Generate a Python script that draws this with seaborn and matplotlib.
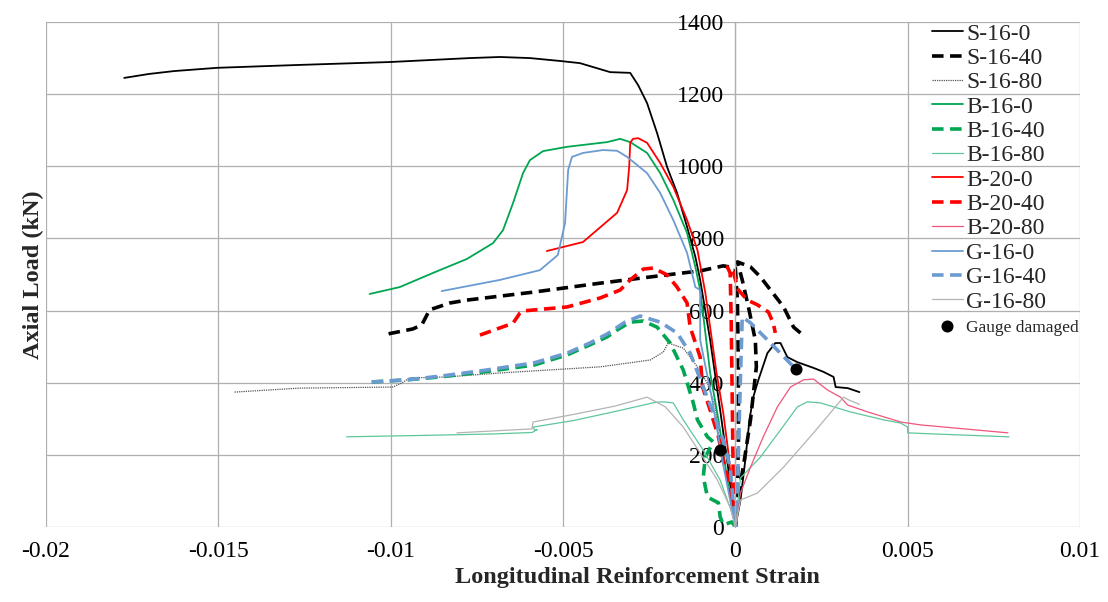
import numpy as np
import pandas as pd
import matplotlib
matplotlib.use("Agg")
import matplotlib.pyplot as plt
import seaborn as sns

# ---- series: longitudinal reinforcement strain vs axial load (kN) ----
s16_0_x = [0.00360, 0.00326, 0.00291, 0.00285, 0.00256, 0.00227, 0.00180, 0.00151, 0.00131,
           0.00116, 0.00093, 0.00067, 0.00052, 0.00041, 0.00029, 0.00015, 0.0,
           -0.00020, -0.00044, -0.00073, -0.00102, -0.00116, -0.00140, -0.00169, -0.00198,
           -0.00227, -0.00256, -0.00282, -0.00305, -0.00363, -0.00451, -0.00509, -0.00596,
           -0.00683, -0.00770, -0.01003, -0.01265, -0.01503, -0.01628, -0.01701, -0.01773]
s16_0_y = [374, 385, 388, 416, 430, 441, 457, 471, 510,
           510, 482, 408, 360, 297, 186, 75, 0,
           158, 324, 518, 685, 749, 832, 926, 998,
           1092, 1175, 1225, 1259, 1261, 1286, 1292, 1300,
           1303, 1300, 1289, 1281, 1273, 1264, 1256, 1245]

s16_40_x = [0.00189, 0.00169, 0.00140, 0.00102, 0.00073, 0.00044, 0.00006,
            0.00020, 0.00038, 0.00058, 0.00061, 0.00044, 0.00023, 0.00006, 0.0,
            0.00006, 0.00009, 0.00009, 0.00006, 0.0,
            -0.00035, -0.00102, -0.00198, -0.00392, -0.00587, -0.00779, -0.00828,
            -0.00887, -0.00910, -0.00936, -0.01009]
s16_40_y = [538, 554, 610, 657, 693, 721, 735,
            685, 610, 518, 444, 297, 166, 75, 0,
            103, 241, 435, 629, 718,
            724, 710, 699, 676, 651, 629, 621,
            602, 560, 549, 535]

s16_80_x = [-0.01453, -0.01265, -0.00994, -0.00968, -0.00945, -0.00837, -0.00683, -0.00392,
            -0.00247, -0.00209, -0.00195, -0.00151, -0.00110, -0.00081, -0.00058, -0.00044]
s16_80_y = [374, 385, 388, 399, 413, 416, 427, 444,
            463, 485, 510, 496, 444, 399, 333, 213]

b16_0_x = [-0.01061, -0.00974, -0.00878, -0.00779, -0.00703, -0.00674, -0.00645, -0.00616,
           -0.00596, -0.00558, -0.00488, -0.00372, -0.00334, -0.00305, -0.00256, -0.00218,
           -0.00180, -0.00140, -0.00116, -0.00102, -0.00073, -0.00049, -0.00023, 0.0]
b16_0_y = [646, 665, 704, 743, 787, 823, 898, 981,
           1017, 1042, 1054, 1067, 1076, 1067, 1037, 981,
           907, 815, 721, 657, 427, 297, 130, 0]

b16_40_x = [-0.01055, -0.00953, -0.00857, -0.00730, -0.00584, -0.00488, -0.00422, -0.00372,
            -0.00343, -0.00305, -0.00267, -0.00227, -0.00189, -0.00151, -0.00122, -0.00110,
            -0.00081, -0.00064, -0.00087, -0.00093, -0.00081, -0.00049, -0.00044, -0.00035,
            -0.00010, 0.0]
b16_40_y = [402, 408, 416, 430, 449, 477, 505, 527,
            546, 568, 571, 554, 510, 435, 344, 297,
            250, 236, 194, 139, 83, 67, 28, 6,
            14, 0]

b16_80_x = [-0.01128, -0.00900, -0.00700, -0.00590, -0.00575, -0.00582, -0.00587, -0.00470,
            -0.00350, -0.00230, -0.00209, -0.00180, -0.00151, -0.00093, -0.00044, -0.00010, 0.0,
            0.00015, 0.00073, 0.00131, 0.00180, 0.00209, 0.00247, 0.00334, 0.00430, 0.00480,
            0.00500, 0.00500, 0.00576, 0.00794]
b16_80_y = [250, 254, 258, 262, 270, 268, 277, 295,
            320, 346, 347, 344, 297, 213, 130, 40, 0,
            136, 194, 269, 333, 347, 344, 319, 297, 288,
            277, 261, 258, 250]

b20_0_x = [-0.00547, -0.00442, -0.00343, -0.00314, -0.00308, -0.00305, -0.00297, -0.00282,
           -0.00256, -0.00218, -0.00180, -0.00140, -0.00110, -0.00087, -0.00055, -0.00035,
           -0.00020, -0.00006, 0.0]
b20_0_y = [765, 790, 871, 934, 998, 1065, 1076, 1078,
           1065, 1009, 943, 851, 768, 649, 430, 316,
           205, 67, 0]

b20_40_x = [-0.00741, -0.00645, -0.00625, -0.00616, -0.00488, -0.00392, -0.00334, -0.00305,
            -0.00267, -0.00238, -0.00198, -0.00169, -0.00140, -0.00131, -0.00102, -0.00095,
            -0.00073, -0.00049, -0.00035, -0.00020, -0.00009, 0.0,
            -0.00006, -0.00009, -0.00012, -0.00015, -0.00023, -0.00006, 0.00009, 0.00035,
            0.00064, 0.00096, 0.00110, 0.00116]
b20_40_y = [532, 565, 593, 599, 610, 635, 657, 685,
            715, 718, 699, 665, 621, 554, 471, 388,
            324, 250, 186, 130, 67, 0,
            130, 352, 574, 704, 721, 707, 657, 629,
            616, 596, 565, 538]

b20_80_x = [0.0, 0.00015, 0.00044, 0.00081, 0.00122, 0.00160, 0.00198, 0.00227, 0.00267,
            0.00305, 0.00326, 0.00384, 0.00480, 0.00538, 0.00791]
b20_80_y = [0, 94, 166, 250, 333, 388, 408, 410, 380,
            360, 338, 319, 291, 283, 261]

g16_0_x = [-0.00852, -0.00683, -0.00567, -0.00515, -0.00494, -0.00485, -0.00474, -0.00442,
           -0.00384, -0.00343, -0.00314, -0.00256, -0.00218, -0.00180, -0.00140, -0.00116,
           -0.00102, -0.00102, -0.00067, -0.00038, -0.00015, 0.0]
g16_0_y = [654, 685, 712, 754, 843, 990, 1026, 1037,
           1045, 1043, 1026, 981, 926, 851, 760, 665,
           657, 518, 352, 186, 75, 0]

g16_40_x = [-0.01055, -0.00953, -0.00857, -0.00730, -0.00584, -0.00488, -0.00422, -0.00372,
            -0.00320, -0.00276, -0.00218, -0.00169, -0.00131, -0.00093, -0.00064, -0.00035,
            -0.00015, 0.0, 0.00006, 0.00010, 0.00015, 0.00020, 0.00044, 0.00102, 0.00169,
            0.00177]
g16_40_y = [402, 408, 418, 434, 455, 482, 510, 535,
            568, 585, 568, 538, 482, 388, 316, 241,
            166, 0, 100, 250, 420, 582, 566, 510, 444,
            438]

g16_80_x = [-0.00808, -0.00590, -0.00587, -0.00470, -0.00350, -0.00256, -0.00203, -0.00151,
            -0.00102, -0.00052, -0.00015, 0.0, 0.00015, 0.00064, 0.00140, 0.00227, 0.00314,
            0.00330, 0.00360]
g16_80_y = [261, 272, 291, 312, 335, 360, 333, 277,
            205, 130, 55, 0, 75, 94, 166, 261, 360,
            352, 340]

gauge_x = [-0.00044, 0.00177]
gauge_y = [213, 438]

series_names = ["S-16-0", "S-16-40", "S-16-80", "B-16-0", "B-16-40", "B-16-80",
                "B-20-0", "B-20-40", "B-20-80", "G-16-0", "G-16-40", "G-16-80"]
series_x = [s16_0_x, s16_40_x, s16_80_x, b16_0_x, b16_40_x, b16_80_x,
            b20_0_x, b20_40_x, b20_80_x, g16_0_x, g16_40_x, g16_80_x]
series_y = [s16_0_y, s16_40_y, s16_80_y, b16_0_y, b16_40_y, b16_80_y,
            b20_0_y, b20_40_y, b20_80_y, g16_0_y, g16_40_y, g16_80_y]

x_ticks = [-0.02, -0.015, -0.01, -0.005, 0, 0.005, 0.01]
x_tick_labels = ["-0.02", "-0.015", "-0.01", "-0.005", "0", "0.005", "0.01"]
y_ticks = [0, 200, 400, 600, 800, 1000, 1200, 1400]

# ---- line styles (colour, width, dash pattern) ----
BLACK, GREEN, RED, BLUE = "#000000", "#00A651", "#FF0000", "#6B9BD1"
styles = [
    (BLACK, 1.3, None),
    (BLACK, 2.6, (3.2, 1.8)),
    ("#555555", 0.9, (1, 0.8)),
    (GREEN, 1.3, None),
    (GREEN, 2.6, (3.2, 1.8)),
    ("#5DC79B", 0.9, None),
    (RED, 1.3, None),
    (RED, 2.6, (3.2, 1.8)),
    ("#F0557A", 0.9, None),
    (BLUE, 1.3, None),
    (BLUE, 2.6, (3.2, 1.8)),
    ("#B4B4B4", 0.9, None),
]

sns.set_theme(style="whitegrid")
plt.rcParams["font.family"] = ["Liberation Serif", "DejaVu Sans"]

fig = plt.figure(figsize=(11.08, 6.02), dpi=100)
ax = fig.add_axes([46 / 1108, 75 / 602, 1034 / 1108, 505 / 602])

for name, xs, ys, (col, lw, dash) in zip(series_names, series_x, series_y, styles):
    df = pd.DataFrame({"strain": xs, "load": ys})
    sns.lineplot(data=df, x="strain", y="load", sort=False, estimator=None,
                 color=col, linewidth=lw, label=name, ax=ax)
    line = ax.lines[-1]
    if dash is not None:
        line.set_linestyle((0, dash))

sns.scatterplot(x=gauge_x, y=gauge_y, color="black", s=75, edgecolor="black",
                linewidth=0, label="Gauge damaged", zorder=6, ax=ax)

ax.set_xlim(-0.02, 0.01)
ax.set_ylim(0, 1400)
ax.set_xticks(x_ticks)
ax.set_xticklabels(x_tick_labels)
ax.set_yticks(y_ticks)

ax.grid(True, color="#AFAFAF", linewidth=0.9)
for side in ["top", "right", "bottom"]:
    ax.spines[side].set_visible(False)
ax.spines["left"].set_position(("data", 0))
ax.spines["left"].set_color("#AFAFAF")
ax.spines["left"].set_linewidth(0.9)

ax.tick_params(axis="both", length=0, labelsize=17, colors="black")
ax.tick_params(axis="y", pad=8)
ax.tick_params(axis="x", pad=10)

ax.set_xlabel("Longitudinal Reinforcement Strain", fontsize=17.5, fontweight="bold")
ax.set_ylabel("Axial Load (kN)", fontsize=17.5, fontweight="bold")
ax.xaxis.set_label_coords((637 - 46) / 1034, -0.079)
ax.yaxis.set_label_coords(-0.002, 0.5)

leg = ax.legend(loc="upper left", bbox_to_anchor=((932 - 46) / 1034, 0.998),
                frameon=False, fontsize=17, borderpad=0, borderaxespad=0,
                handlelength=1.3, handletextpad=0.15, labelspacing=0.12)
leg.get_texts()[-1].set_fontsize(12.5)

fig.savefig("out.png", dpi=100, facecolor="white")
